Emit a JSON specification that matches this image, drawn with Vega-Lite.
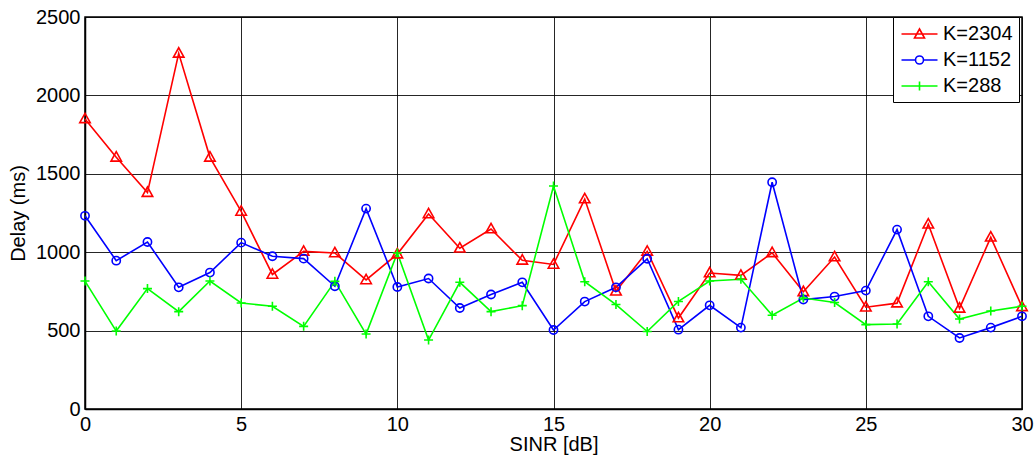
{
  "$schema": "https://vega.github.io/schema/vega-lite/v6.json",
  "autosize": "none",
  "padding": {"left": 85, "top": 17, "right": 14, "bottom": 52},
  "width": 937,
  "height": 392,
  "background": "white",
  "config": {
    "view": {"stroke": "black", "strokeWidth": 1.5},
    "font": "Liberation Sans",
    "axis": {
      "labelFont": "Liberation Sans",
      "titleFont": "Liberation Sans",
      "labelFontSize": 20,
      "titleFontSize": 20,
      "titleFontWeight": "normal",
      "labelColor": "black",
      "titleColor": "black",
      "domainColor": "black",
      "domainWidth": 1.5,
      "gridColor": "black",
      "gridOpacity": 0.85,
      "gridWidth": 1,
      "ticks": false,
      "labelPadding": 5,
      "labelFlush": false,
      "format": "d"
    }
  },
  "data": {
    "values": [
      {"sinr": 0, "delay": 1850, "K": "K=2304"},
      {"sinr": 1, "delay": 1605, "K": "K=2304"},
      {"sinr": 2, "delay": 1380, "K": "K=2304"},
      {"sinr": 3, "delay": 2268, "K": "K=2304"},
      {"sinr": 4, "delay": 1605, "K": "K=2304"},
      {"sinr": 5, "delay": 1260, "K": "K=2304"},
      {"sinr": 6, "delay": 858, "K": "K=2304"},
      {"sinr": 7, "delay": 1005, "K": "K=2304"},
      {"sinr": 8, "delay": 995, "K": "K=2304"},
      {"sinr": 9, "delay": 823, "K": "K=2304"},
      {"sinr": 10, "delay": 988, "K": "K=2304"},
      {"sinr": 11, "delay": 1244, "K": "K=2304"},
      {"sinr": 12, "delay": 1025, "K": "K=2304"},
      {"sinr": 13, "delay": 1148, "K": "K=2304"},
      {"sinr": 14, "delay": 948, "K": "K=2304"},
      {"sinr": 15, "delay": 922, "K": "K=2304"},
      {"sinr": 16, "delay": 1339, "K": "K=2304"},
      {"sinr": 17, "delay": 751, "K": "K=2304"},
      {"sinr": 18, "delay": 1005, "K": "K=2304"},
      {"sinr": 19, "delay": 580, "K": "K=2304"},
      {"sinr": 20, "delay": 867, "K": "K=2304"},
      {"sinr": 21, "delay": 852, "K": "K=2304"},
      {"sinr": 22, "delay": 996, "K": "K=2304"},
      {"sinr": 23, "delay": 747, "K": "K=2304"},
      {"sinr": 24, "delay": 969, "K": "K=2304"},
      {"sinr": 25, "delay": 649, "K": "K=2304"},
      {"sinr": 26, "delay": 675, "K": "K=2304"},
      {"sinr": 27, "delay": 1178, "K": "K=2304"},
      {"sinr": 28, "delay": 642, "K": "K=2304"},
      {"sinr": 29, "delay": 1095, "K": "K=2304"},
      {"sinr": 30, "delay": 651, "K": "K=2304"},
      {"sinr": 0, "delay": 1232, "K": "K=1152"},
      {"sinr": 1, "delay": 946, "K": "K=1152"},
      {"sinr": 2, "delay": 1065, "K": "K=1152"},
      {"sinr": 3, "delay": 776, "K": "K=1152"},
      {"sinr": 4, "delay": 870, "K": "K=1152"},
      {"sinr": 5, "delay": 1061, "K": "K=1152"},
      {"sinr": 6, "delay": 974, "K": "K=1152"},
      {"sinr": 7, "delay": 959, "K": "K=1152"},
      {"sinr": 8, "delay": 783, "K": "K=1152"},
      {"sinr": 9, "delay": 1278, "K": "K=1152"},
      {"sinr": 10, "delay": 778, "K": "K=1152"},
      {"sinr": 11, "delay": 832, "K": "K=1152"},
      {"sinr": 12, "delay": 644, "K": "K=1152"},
      {"sinr": 13, "delay": 730, "K": "K=1152"},
      {"sinr": 14, "delay": 808, "K": "K=1152"},
      {"sinr": 15, "delay": 504, "K": "K=1152"},
      {"sinr": 16, "delay": 685, "K": "K=1152"},
      {"sinr": 17, "delay": 776, "K": "K=1152"},
      {"sinr": 18, "delay": 958, "K": "K=1152"},
      {"sinr": 19, "delay": 506, "K": "K=1152"},
      {"sinr": 20, "delay": 661, "K": "K=1152"},
      {"sinr": 21, "delay": 519, "K": "K=1152"},
      {"sinr": 22, "delay": 1446, "K": "K=1152"},
      {"sinr": 23, "delay": 698, "K": "K=1152"},
      {"sinr": 24, "delay": 717, "K": "K=1152"},
      {"sinr": 25, "delay": 755, "K": "K=1152"},
      {"sinr": 26, "delay": 1144, "K": "K=1152"},
      {"sinr": 27, "delay": 591, "K": "K=1152"},
      {"sinr": 28, "delay": 453, "K": "K=1152"},
      {"sinr": 29, "delay": 519, "K": "K=1152"},
      {"sinr": 30, "delay": 591, "K": "K=1152"},
      {"sinr": 0, "delay": 816, "K": "K=288"},
      {"sinr": 1, "delay": 497, "K": "K=288"},
      {"sinr": 2, "delay": 768, "K": "K=288"},
      {"sinr": 3, "delay": 621, "K": "K=288"},
      {"sinr": 4, "delay": 816, "K": "K=288"},
      {"sinr": 5, "delay": 676, "K": "K=288"},
      {"sinr": 6, "delay": 655, "K": "K=288"},
      {"sinr": 7, "delay": 527, "K": "K=288"},
      {"sinr": 8, "delay": 814, "K": "K=288"},
      {"sinr": 9, "delay": 478, "K": "K=288"},
      {"sinr": 10, "delay": 995, "K": "K=288"},
      {"sinr": 11, "delay": 440, "K": "K=288"},
      {"sinr": 12, "delay": 808, "K": "K=288"},
      {"sinr": 13, "delay": 621, "K": "K=288"},
      {"sinr": 14, "delay": 659, "K": "K=288"},
      {"sinr": 15, "delay": 1422, "K": "K=288"},
      {"sinr": 16, "delay": 812, "K": "K=288"},
      {"sinr": 17, "delay": 666, "K": "K=288"},
      {"sinr": 18, "delay": 494, "K": "K=288"},
      {"sinr": 19, "delay": 686, "K": "K=288"},
      {"sinr": 20, "delay": 816, "K": "K=288"},
      {"sinr": 21, "delay": 827, "K": "K=288"},
      {"sinr": 22, "delay": 598, "K": "K=288"},
      {"sinr": 23, "delay": 708, "K": "K=288"},
      {"sinr": 24, "delay": 679, "K": "K=288"},
      {"sinr": 25, "delay": 538, "K": "K=288"},
      {"sinr": 26, "delay": 542, "K": "K=288"},
      {"sinr": 27, "delay": 812, "K": "K=288"},
      {"sinr": 28, "delay": 574, "K": "K=288"},
      {"sinr": 29, "delay": 625, "K": "K=288"},
      {"sinr": 30, "delay": 655, "K": "K=288"}
    ]
  },
  "encoding": {
    "x": {
      "field": "sinr",
      "type": "quantitative",
      "title": "SINR [dB]",
      "scale": {"domain": [0, 30], "nice": false},
      "axis": {"values": [0, 5, 10, 15, 20, 25, 30], "titlePadding": 0}
    },
    "y": {
      "field": "delay",
      "type": "quantitative",
      "title": "Delay (ms)",
      "scale": {"domain": [0, 2500], "nice": false},
      "axis": {"values": [0, 500, 1000, 1500, 2000, 2500], "titlePadding": 7}
    },
    "color": {
      "field": "K",
      "type": "nominal",
      "sort": ["K=2304", "K=1152", "K=288"],
      "scale": {"domain": ["K=2304", "K=1152", "K=288"], "range": ["#FF0000", "#0000FF", "#00FF00"]},
      "legend": {
        "title": null,
        "orient": "none",
        "legendX": 808,
        "legendY": 0,
        "fillColor": "white",
        "strokeColor": "black",
        "padding": 6,
        "labelFont": "Liberation Sans",
        "labelFontSize": 20,
        "labelColor": "black",
        "labelOffset": 22,
        "symbolSize": 400,
        "symbolStrokeWidth": 1.6,
        "rowPadding": 5,
        "encode": {
          "symbols": {
            "update": {
              "shape": {"signal": "datum.value === 'K=2304' ? 'M-0.85,0H2.75M0.95,-0.5L1.45,0.4L0.45,0.4Z' : datum.value === 'K=1152' ? 'M-0.85,0H0.55A0.4,0.4 0 1,1 1.35,0A0.4,0.4 0 1,1 0.55,0M1.35,0H2.75' : 'M-0.85,0H2.75M0.95,-0.45V0.45'"},
              "fill": {"value": "transparent"}
            }
          }
        }
      }
    }
  },
  "layer": [
    {
      "mark": {"type": "line", "strokeWidth": 1.6}
    },
    {
      "transform": [{"filter": "datum.K === 'K=2304'"}],
      "mark": {"type": "point", "filled": false, "strokeWidth": 1.6, "size": 625, "opacity": 1, "shape": "M0,-0.45L0.42,0.3L-0.42,0.3Z"}
    },
    {
      "transform": [{"filter": "datum.K === 'K=1152'"}],
      "mark": {"type": "point", "filled": false, "strokeWidth": 1.6, "size": 625, "opacity": 1, "shape": "M0.33,0A0.33,0.33 0 1,1 -0.33,0A0.33,0.33 0 1,1 0.33,0Z"}
    },
    {
      "transform": [{"filter": "datum.K === 'K=288'"}],
      "mark": {"type": "point", "filled": false, "strokeWidth": 1.6, "size": 625, "opacity": 1, "shape": "M-0.36,0H0.36M0,-0.36V0.36"}
    }
  ]
}
